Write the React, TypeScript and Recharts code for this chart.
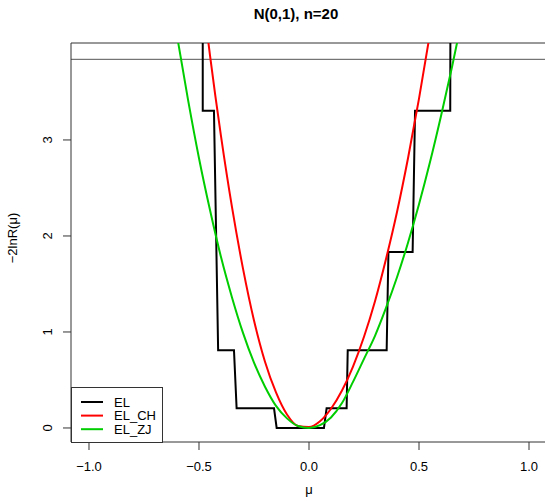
import React from "react";
import {
  LineChart,
  Line,
  XAxis,
  YAxis,
  ReferenceLine,
} from "recharts";

// EL step curve
const elMu = [
  -0.483, -0.483, -0.432, -0.413, -0.341, -0.329, -0.159, -0.147, 0.068, 0.08,
  0.171, 0.176, 0.353, 0.361, 0.471, 0.482, 0.642, 0.647,
];
const elVal = [
  10, 3.305, 3.305, 0.81, 0.81, 0.205, 0.205, 0, 0, 0.205, 0.205, 0.81, 0.81,
  1.833, 1.833, 3.305, 3.305, 10,
];

const chMu = [
  -0.47, -0.45, -0.4, -0.35, -0.3, -0.25, -0.2, -0.15, -0.1, -0.05, 0, 0.05,
  0.1, 0.15, 0.2, 0.25, 0.3, 0.35, 0.4, 0.45, 0.5, 0.55,
];
const chVal = [
  4.25, 3.88, 3.04, 2.3, 1.66, 1.12, 0.69, 0.37, 0.14, 0.02, 0.01, 0.07, 0.2,
  0.39, 0.64, 0.95, 1.32, 1.76, 2.25, 2.81, 3.43, 4.11,
];

const zjMu = [
  -0.61, -0.55, -0.5, -0.45, -0.4, -0.35, -0.3, -0.25, -0.2, -0.15, -0.1, -0.05,
  0, 0.05, 0.1, 0.15, 0.2, 0.25, 0.3, 0.35, 0.4, 0.45, 0.5, 0.55, 0.6, 0.65,
  0.7,
];
const zjVal = [
  4.22, 3.42, 2.81, 2.27, 1.78, 1.36, 0.99, 0.68, 0.43, 0.23, 0.1, 0.02, 0,
  0.03, 0.11, 0.26, 0.48, 0.72, 0.96, 1.25, 1.57, 1.93, 2.33, 2.77, 3.25, 3.76,
  4.31,
];

const xTicks = [-1, -0.5, 0, 0.5, 1];
const yTicks = [0, 1, 2, 3];
const chiCrit = 3.84;

const seriesNames = ["EL", "EL_CH", "EL_ZJ"];
const seriesColors = ["#000000", "#ff0000", "#00cd00"];

const toPoints = (mu: number[], val: number[]) =>
  mu.map((m, i) => ({ mu: m, v: val[i] }));

const elData = toPoints(elMu, elVal);
const chData = toPoints(chMu, chVal);
const zjData = toPoints(zjMu, zjVal);

const FONT = "'Liberation Sans', Arial, Helvetica, sans-serif";
const BOX = "#333";

const fmtX = (v: number) => (v < 0 ? "\u2212" + Math.abs(v).toFixed(1) : v.toFixed(1));

function YTick(props: any) {
  const { x, y, payload } = props;
  return (
    <text
      x={x}
      y={y}
      transform={`rotate(-90 ${x} ${y})`}
      textAnchor="middle"
      fontSize={13}
      fontFamily={FONT}
      fill="#000"
    >
      {payload.value}
    </text>
  );
}

function LegendBox() {
  return (
    <svg
      width={93}
      height={56}
      style={{ position: "absolute", left: 70, top: 387 }}
    >
      <rect x={1.5} y={0.5} width={91} height={55} fill="#fff" stroke={BOX} />
      {seriesNames.map((name, i) => {
        const y = 15 + i * 13.6;
        return (
          <g key={name}>
            <line x1={11} x2={33} y1={y} y2={y} stroke={seriesColors[i]} strokeWidth={2} />
            <text x={44} y={y + 4.5} fontSize={13} fontFamily={FONT} fill="#000">
              {name}
            </text>
          </g>
        );
      })}
    </svg>
  );
}

export default function App() {
  return (
    <div
      style={{
        position: "absolute",
        left: 0,
        top: 0,
        width: 545,
        height: 503,
        background: "#fff",
        overflow: "hidden",
      }}
    >
      <LineChart
        width={545}
        height={503}
        margin={{ top: 43, right: 0, bottom: 31, left: 31 }}
      >
        <XAxis
          type="number"
          dataKey="mu"
          domain={[-1.0818, 1.0727]}
          allowDataOverflow
          ticks={xTicks}
          tickFormatter={fmtX}
          tickSize={8}
          tickMargin={12}
          height={30}
          axisLine={{ stroke: BOX }}
          tickLine={{ stroke: BOX }}
          tick={{ fill: "#000", fontSize: 13, fontFamily: FONT }}
        />
        <YAxis
          type="number"
          domain={[-0.146, 4.01]}
          allowDataOverflow
          ticks={yTicks}
          tickSize={8}
          tickMargin={11}
          width={40}
          axisLine={{ stroke: BOX }}
          tickLine={{ stroke: BOX }}
          tick={<YTick />}
        />
        <ReferenceLine y={4.01} stroke={BOX} />
        <ReferenceLine y={chiCrit} stroke="#555" />
        <Line
          data={elData}
          dataKey="v"
          type="linear"
          stroke={seriesColors[0]}
          strokeWidth={2}
          dot={false}
          activeDot={false}
          isAnimationActive={false}
        />
        <Line
          data={chData}
          dataKey="v"
          type="monotone"
          stroke={seriesColors[1]}
          strokeWidth={2}
          dot={false}
          activeDot={false}
          isAnimationActive={false}
        />
        <Line
          data={zjData}
          dataKey="v"
          type="monotone"
          stroke={seriesColors[2]}
          strokeWidth={2}
          dot={false}
          activeDot={false}
          isAnimationActive={false}
        />
      </LineChart>
      <svg
        width={545}
        height={503}
        style={{ position: "absolute", left: 0, top: 0, pointerEvents: "none" }}
      >
        <text
          x={296}
          y={19}
          textAnchor="middle"
          fontSize={15}
          fontWeight="bold"
          fontFamily={FONT}
        >
          N(0,1), n=20
        </text>
        <text
          x={17}
          y={238}
          transform="rotate(-90 17 238)"
          textAnchor="middle"
          fontSize={13}
          fontFamily={FONT}
        >
          {"\u22122lnR(\u03bc)"}
        </text>
        <text x={309} y={494} textAnchor="middle" fontSize={13} fontFamily={FONT}>
          {"\u03bc"}
        </text>
      </svg>
      <LegendBox />
    </div>
  );
}
